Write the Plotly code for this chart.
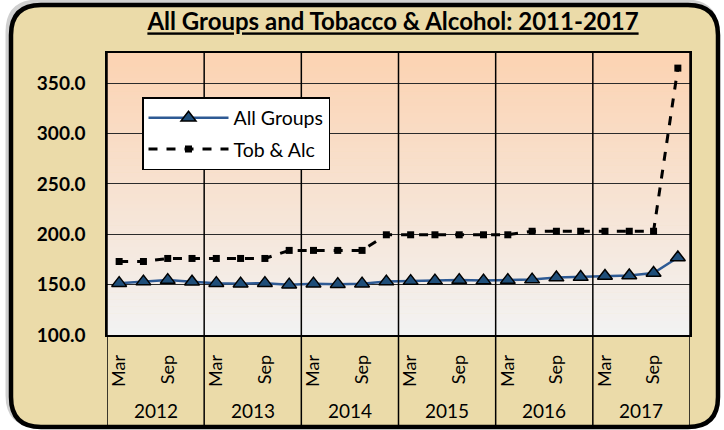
import plotly.graph_objects as go

# quarterly data
years = ["2012", "2013", "2014", "2015", "2016", "2017"]
months = ["Mar", "Jun", "Sep", "Dec"]
shown_months = ["Mar", "Sep"]

all_groups = [151.5, 153.0, 154.5, 152.8, 151.5, 151.0, 151.5, 150.0,
              151.0, 150.5, 151.0, 153.0, 153.5, 154.0, 154.5, 154.0,
              154.5, 155.0, 157.0, 157.5, 158.5, 159.0, 161.5, 177.0]
tob_alc = [173.0, 173.0, 176.0, 176.0, 176.0, 176.0, 176.0, 184.0,
           184.0, 184.0, 184.0, 199.5, 199.5, 199.5, 199.5, 199.5,
           199.5, 203.0, 203.0, 203.0, 203.0, 203.0, 203.0, 365.0]

periods = [m + " " + y for y in years for m in months]

W, H = 724, 430
L, R, T, B = 107, 34, 53, 95
PW, PH = W - L - R, H - T - B
FONT = "Lato, Carlito, Calibri, sans-serif"


def px(x):
    return (x - L) / PW


def py(y):
    return (H - B - y) / PH


def rounded(x0, y0, x1, y1, r):
    # rounded rectangle path in paper coords, built from pixel coords
    pts = [
        f"M {px(x0 + r)},{py(y0)}",
        f"L {px(x1 - r)},{py(y0)}",
        f"Q {px(x1)},{py(y0)} {px(x1)},{py(y0 + r)}",
        f"L {px(x1)},{py(y1 - r)}",
        f"Q {px(x1)},{py(y1)} {px(x1 - r)},{py(y1)}",
        f"L {px(x0 + r)},{py(y1)}",
        f"Q {px(x0)},{py(y1)} {px(x0)},{py(y1 - r)}",
        f"L {px(x0)},{py(y0 + r)}",
        f"Q {px(x0)},{py(y0)} {px(x0 + r)},{py(y0)}",
        "Z",
    ]
    return " ".join(pts)


fig = go.Figure()

fig.add_trace(go.Scatter(
    x=periods, y=all_groups, name="All Groups", mode="lines+markers",
    legendgroup="a",
    line=dict(color="#2E5A94", width=2.5),
    marker=dict(symbol="triangle-up", size=13, color="#1F4E79",
                line=dict(color="black", width=1.5)),
))
fig.add_trace(go.Scatter(
    x=periods, y=tob_alc, name="Tob & Alc", mode="lines+markers",
    legendgroup="b",
    line=dict(color="black", width=3, dash="dash"),
    marker=dict(symbol="square", size=7, color="black"),
))

shapes = []
# frame shadow + papyrus frame
shapes.append(dict(type="path", xref="paper", yref="paper", layer="below",
                   path=rounded(8, 2, 716, 425, 30),
                   line=dict(color="rgba(120,120,120,0.35)", width=5)))
shapes.append(dict(type="path", xref="paper", yref="paper", layer="below",
                   path=rounded(11, 5, 718, 427, 30),
                   fillcolor="#EBDBA9", line=dict(color="black", width=4.5)))

# gradient plot background (peach to light grey)
top_c = (252, 211, 178)
bot_c = (242, 242, 242)
n = 80
for i in range(n):
    t = i / (n - 1)
    c = tuple(round(bot_c[k] + (top_c[k] - bot_c[k]) * t) for k in range(3))
    shapes.append(dict(type="rect", xref="paper", yref="paper", layer="below",
                       x0=0, x1=1, y0=i / n, y1=(i + 1) / n + 0.002,
                       fillcolor="rgb(%d,%d,%d)" % c, line=dict(width=0)))

# year dividers in the category strip
for i in range(len(years) + 1):
    xv = i * len(months) - 0.5
    shapes.append(dict(type="line", xref="x", yref="paper", layer="above",
                       x0=xv, x1=xv, y0=1, y1=py(426),
                       line=dict(color="black", width=1.5)))

annotations = []
for i, yr in enumerate(years):
    annotations.append(dict(
        x=i * len(months) + (len(months) - 1) / 2, y=py(410),
        xref="x", yref="paper", text=yr, showarrow=False,
        font=dict(family=FONT, size=19, color="black"),
        xanchor="center", yanchor="middle"))

fig.update_layout(
    width=W, height=H, autosize=False,
    margin=dict(l=L, r=R, t=T, b=B),
    paper_bgcolor="white",
    plot_bgcolor="rgba(0,0,0,0)",
    title=dict(text="<b>All Groups and Tobacco & Alcohol: 2011-2017</b>",
               x=393 / W, y=1 - 22 / H, xref="container", yref="container",
               xanchor="center", yanchor="middle",
               font=dict(family=FONT, size=24, color="black",
                         lineposition="under")),
    xaxis=dict(type="category", range=[-0.5, len(periods) - 0.5],
               tickmode="array",
               tickvals=[p for p in periods if p.split()[0] in shown_months],
               ticktext=[p.split()[0] for p in periods if p.split()[0] in shown_months],
               tickangle=-90, ticks="", ticklabelstandoff=11,
               tickfont=dict(family=FONT, size=18, color="black"),
               showgrid=False, showline=True, linecolor="black",
               linewidth=1.5, mirror=True, zeroline=False),
    yaxis=dict(range=[100, 380], dtick=50, tick0=100, tickformat=".1f",
               ticks="", ticklabelstandoff=16,
               tickfont=dict(family=FONT, size=19, color="black", weight="bold"),
               showgrid=True, gridcolor="#2b2b2b", gridwidth=1.3,
               showline=True, linecolor="black", linewidth=1.5, mirror=True,
               zeroline=False),
    legend=dict(x=px(142), y=py(97), xanchor="left", yanchor="top",
                bgcolor="white", bordercolor="black", borderwidth=1.5,
                font=dict(family=FONT, size=19.5, color="black"),
                traceorder="grouped", tracegroupgap=3,
                itemwidth=80),
    shapes=shapes,
    annotations=annotations,
)

fig.write_html("out.html", config={"displayModeBar": False},
               post_script="document.body.style.margin='0';")
